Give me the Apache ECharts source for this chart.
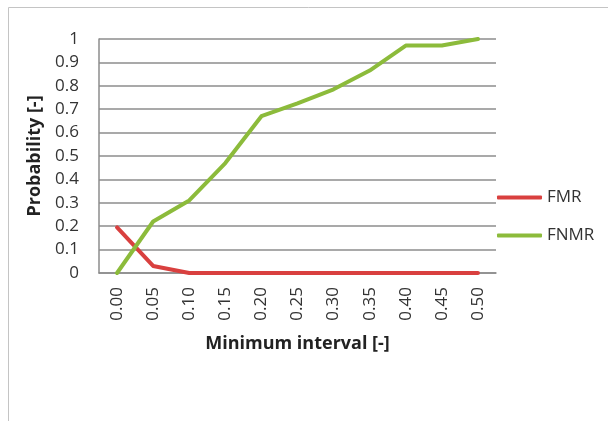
<!DOCTYPE html>
<html>
<head>
<meta charset="utf-8">
<script src="https://cdn.jsdelivr.net/npm/echarts@6/dist/echarts.min.js"></script>
<style>
  html, body { margin: 0; padding: 0; background: #fff; }
  #chart { width: 608px; height: 421px; }
</style>
</head>
<body>
<div id="chart"></div>
<script>
// Minimum interval values on the category axis
const intervals = ['0.00', '0.05', '0.10', '0.15', '0.20', '0.25', '0.30', '0.35', '0.40', '0.45', '0.50'];
// False match rate
const fmr = [0.195, 0.03, 0.0, 0.0, 0.0, 0.0, 0.0, 0.0, 0.0, 0.0, 0.0];
// False non-match rate
const fnmr = [0.0, 0.22, 0.31, 0.47, 0.67, 0.725, 0.785, 0.865, 0.972, 0.972, 1.0];

const FONT = 'Open Sans';
const gridColor = '#8c8c8c';
const LABEL_SIZE = 17;
const NAME_SIZE = 18;

function legendEntry(name, top) {
  return {
    orient: 'vertical',
    left: 492,
    top: top,
    itemWidth: 45,
    itemHeight: 4,
    icon: 'roundRect',
    textStyle: { fontFamily: FONT, fontSize: LABEL_SIZE, color: '#333' },
    data: [name]
  };
}

const chart = echarts.init(document.getElementById('chart'), null, { renderer: 'canvas' });
chart.setOption({
  animation: false,
  backgroundColor: '#ffffff',
  textStyle: { fontFamily: FONT },
  graphic: [{
    type: 'rect',
    shape: { x: 8.5, y: 7.5, width: 700, height: 500 },
    style: { fill: 'none', stroke: '#c4c4c4', lineWidth: 1 },
    silent: true,
    z: -10
  }],
  grid: { left: 99, right: 112, top: 39, bottom: 148, containLabel: false },
  legend: [legendEntry('FMR', 184), legendEntry('FNMR', 222)],
  xAxis: {
    type: 'category',
    data: intervals,
    boundaryGap: true,
    name: 'Minimum interval [-]',
    nameLocation: 'middle',
    nameGap: 62,
    nameTextStyle: { fontFamily: FONT, fontSize: NAME_SIZE, fontWeight: 'bold', color: '#222' },
    axisLine: { show: true, lineStyle: { color: gridColor, width: 1.5 } },
    axisTick: { show: false },
    axisLabel: { rotate: 90, fontFamily: FONT, fontSize: LABEL_SIZE, color: '#333', margin: 14 },
    splitLine: { show: false }
  },
  yAxis: {
    type: 'value',
    min: 0,
    max: 1,
    interval: 0.1,
    name: 'Probability [-]',
    nameLocation: 'middle',
    nameGap: 55,
    nameRotate: 90,
    nameTextStyle: { fontFamily: FONT, fontSize: NAME_SIZE, fontWeight: 'bold', color: '#222' },
    axisLine: { show: true, lineStyle: { color: gridColor, width: 1.5 } },
    axisTick: { show: false },
    axisLabel: { fontFamily: FONT, fontSize: LABEL_SIZE, color: '#333', margin: 20 },
    splitLine: { show: true, lineStyle: { color: gridColor, width: 1.5 } }
  },
  series: [
    {
      name: 'FMR',
      type: 'line',
      data: fmr,
      symbol: 'none',
      color: '#d9403f',
      lineStyle: { width: 4, color: '#d9403f', cap: 'round', join: 'round' }
    },
    {
      name: 'FNMR',
      type: 'line',
      data: fnmr,
      symbol: 'none',
      color: '#8cbb3b',
      lineStyle: { width: 4, color: '#8cbb3b', cap: 'round', join: 'round' }
    }
  ]
});
</script>
</body>
</html>
